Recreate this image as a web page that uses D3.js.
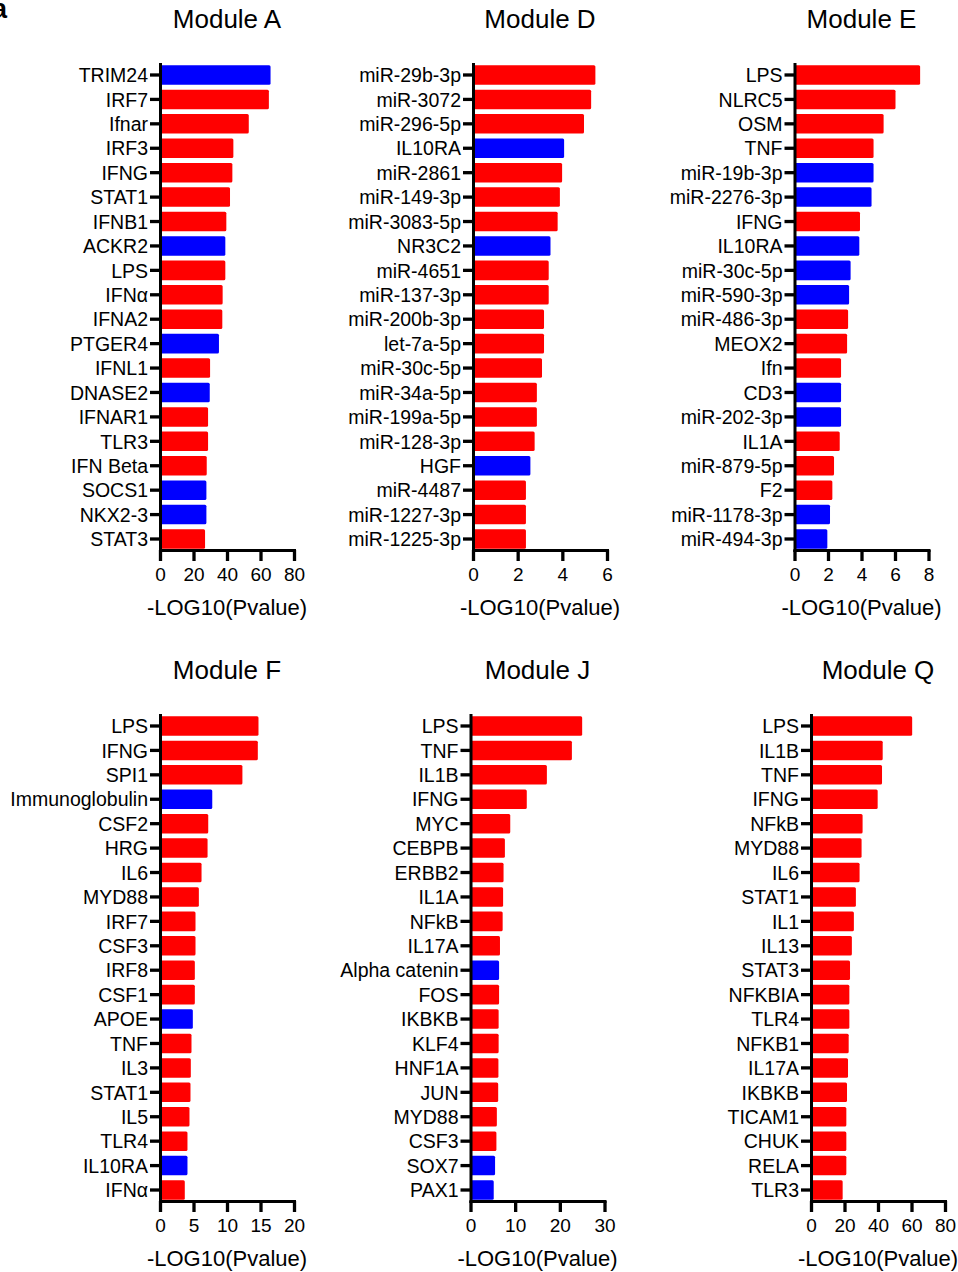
<!DOCTYPE html>
<html>
<head>
<meta charset="utf-8">
<script src="https://cdn.jsdelivr.net/npm/d3@7/dist/d3.min.js"></script>
<style>
  body { margin: 0; background: #fff; }
  svg { display: block; font-family: "Liberation Sans", Arial, sans-serif; }
</style>
</head>
<body>
<svg id="svg1" width="958" height="1272"></svg>
<script>
// ---- data ----
// "act" = red bar, "inh" = blue bar
var modATitle = "Module A";
var modAGenes = ["TRIM24","IRF7","Ifnar","IRF3","IFNG","STAT1","IFNB1","ACKR2","LPS","IFN\u03b1",
                 "IFNA2","PTGER4","IFNL1","DNASE2","IFNAR1","TLR3","IFN Beta","SOCS1","NKX2-3","STAT3"];
var modAValues = [66, 65, 53, 43.8, 43.2, 41.8, 39.6, 39, 39, 37.4,
                  37.2, 35.2, 29.9, 29.7, 28.7, 28.7, 27.9, 27.7, 27.7, 26.9];
var modADir = ["inh","act","act","act","act","act","act","inh","act","act",
               "act","inh","act","inh","act","act","act","inh","inh","act"];
var modATicks = [0, 20, 40, 60, 80];

var modDTitle = "Module D";
var modDGenes = ["miR-29b-3p","miR-3072","miR-296-5p","IL10RA","miR-2861","miR-149-3p","miR-3083-5p","NR3C2","miR-4651","miR-137-3p",
                 "miR-200b-3p","let-7a-5p","miR-30c-5p","miR-34a-5p","miR-199a-5p","miR-128-3p","HGF","miR-4487","miR-1227-3p","miR-1225-3p"];
var modDValues = [5.48, 5.29, 4.97, 4.08, 3.99, 3.89, 3.79, 3.47, 3.39, 3.39,
                  3.18, 3.18, 3.09, 2.86, 2.86, 2.76, 2.57, 2.37, 2.37, 2.37];
var modDDir = ["act","act","act","inh","act","act","act","inh","act","act",
               "act","act","act","act","act","act","inh","act","act","act"];
var modDTicks = [0, 2, 4, 6];

var modETitle = "Module E";
var modEGenes = ["LPS","NLRC5","OSM","TNF","miR-19b-3p","miR-2276-3p","IFNG","IL10RA","miR-30c-5p","miR-590-3p",
                 "miR-486-3p","MEOX2","Ifn","CD3","miR-202-3p","IL1A","miR-879-5p","F2","miR-1178-3p","miR-494-3p"];
var modEValues = [7.5, 6.03, 5.32, 4.72, 4.72, 4.6, 3.91, 3.87, 3.35, 3.26,
                  3.2, 3.14, 2.78, 2.78, 2.78, 2.7, 2.36, 2.26, 2.12, 1.96];
var modEDir = ["act","act","act","act","inh","inh","act","inh","inh","inh",
               "act","act","act","inh","inh","act","act","act","inh","inh"];
var modETicks = [0, 2, 4, 6, 8];

var modFTitle = "Module F";
var modFGenes = ["LPS","IFNG","SPI1","Immunoglobulin","CSF2","HRG","IL6","MYD88","IRF7","CSF3",
                 "IRF8","CSF1","APOE","TNF","IL3","STAT1","IL5","TLR4","IL10RA","IFN\u03b1"];
var modFValues = [14.7, 14.6, 12.3, 7.8, 7.2, 7.1, 6.2, 5.8, 5.3, 5.3,
                  5.2, 5.2, 4.9, 4.7, 4.6, 4.55, 4.4, 4.1, 4.1, 3.7];
var modFDir = ["act","act","act","inh","act","act","act","act","act","act",
               "act","act","inh","act","act","act","act","act","inh","act"];
var modFTicks = [0, 5, 10, 15, 20];

var modJTitle = "Module J";
var modJGenes = ["LPS","TNF","IL1B","IFNG","MYC","CEBPB","ERBB2","IL1A","NFkB","IL17A",
                 "Alpha catenin","FOS","IKBKB","KLF4","HNF1A","JUN","MYD88","CSF3","SOX7","PAX1"];
var modJValues = [25, 22.7, 17.1, 12.6, 8.9, 7.7, 7.4, 7.3, 7.2, 6.6,
                  6.4, 6.4, 6.3, 6.3, 6.25, 6.2, 5.9, 5.8, 5.5, 5.2];
var modJDir = ["act","act","act","act","act","act","act","act","act","act",
               "inh","act","act","act","act","act","act","act","inh","inh"];
var modJTicks = [0, 10, 20, 30];

var modQTitle = "Module Q";
var modQGenes = ["LPS","IL1B","TNF","IFNG","NFkB","MYD88","IL6","STAT1","IL1","IL13",
                 "STAT3","NFKBIA","TLR4","NFKB1","IL17A","IKBKB","TICAM1","CHUK","RELA","TLR3"];
var modQValues = [60.4, 42.8, 42.4, 39.8, 30.8, 30.2, 29, 26.8, 25.6, 24.4,
                  23.3, 22.9, 22.9, 22.5, 22.1, 21.5, 21.1, 21.1, 21.1, 18.9];
var modQDir = ["act","act","act","act","act","act","act","act","act","act",
               "act","act","act","act","act","act","act","act","act","act"];
var modQTicks = [0, 20, 40, 60, 80];

var axisTitle = "-LOG10(Pvalue)";

// ---- layout ----
var svg = d3.select('#svg1');
var colorOf = { act: '#ff0000', inh: '#0000ff' };
var plotW = 134;
var rowTop = [63, 714];      // top of each y axis
var plotH = 487;

// panel letter (cut at the left edge in the original)
svg.append('text')
    .attr('x', -8).attr('y', 18)
    .attr('font-size', 27).attr('font-weight', 'bold')
    .text('a');

function drawPanel(left, top, title, genes, values, dirs, ticks) {
    var g = svg.append('g').attr('transform', 'translate(' + left + ',' + top + ')');

    var x = d3.scaleLinear()
        .domain([0, ticks[ticks.length - 1]])
        .range([0, plotW]);

    var y = d3.scaleBand()
        .domain(genes)
        .range([1, plotH])
        .paddingInner(0.2)
        .paddingOuter(0.05);

    var rows = genes.map(function(d, i) { return { gene: d, value: values[i], dir: dirs[i] }; });

    g.selectAll('rect')
        .data(rows)
        .enter()
        .append('rect')
        .attr('x', x(0))
        .attr('y', function(d) { return y(d.gene); })
        .attr('width', function(d) { return x(d.value) - x(0); })
        .attr('height', y.bandwidth())
        .attr('rx', 1.5)
        .attr('fill', function(d) { return colorOf[d.dir]; });

    // y axis with gene names
    var yAxis = g.append('g')
        .call(d3.axisLeft(y).tickSize(10).tickSizeOuter(0).tickPadding(2));
    yAxis.selectAll('text').attr('font-size', 19.5).attr('fill', '#000').attr('dy', '0.37em');

    // x axis
    var xAxis = g.append('g')
        .attr('transform', 'translate(0,' + plotH + ')')
        .call(d3.axisBottom(x).tickValues(ticks).tickSize(11).tickSizeOuter(0).tickPadding(6.5)
              .tickFormat(d3.format('d')));
    xAxis.selectAll('text').attr('font-size', 19).attr('fill', '#000');

    g.selectAll('.domain, .tick line')
        .attr('stroke', '#000')
        .attr('stroke-width', 3);
    g.selectAll('.domain').attr('stroke-linecap', 'square');
    g.selectAll('.tick line').attr('stroke-width', 3.3);
    g.selectAll('.tick text').attr('font-family', '"Liberation Sans", Arial, sans-serif');

    // panel title
    g.append('text')
        .attr('x', plotW / 2).attr('y', -35)
        .attr('text-anchor', 'middle')
        .attr('font-size', 26)
        .text(title);

    // axis title
    g.append('text')
        .attr('x', plotW / 2).attr('y', plotH + 65)
        .attr('text-anchor', 'middle')
        .attr('font-size', 22)
        .text(axisTitle);
}

drawPanel(160,   rowTop[0], modATitle, modAGenes, modAValues, modADir, modATicks);
drawPanel(473,   rowTop[0], modDTitle, modDGenes, modDValues, modDDir, modDTicks);
drawPanel(794.5, rowTop[0], modETitle, modEGenes, modEValues, modEDir, modETicks);
drawPanel(160,   rowTop[1], modFTitle, modFGenes, modFValues, modFDir, modFTicks);
drawPanel(470.5, rowTop[1], modJTitle, modJGenes, modJValues, modJDir, modJTicks);
drawPanel(811,   rowTop[1], modQTitle, modQGenes, modQValues, modQDir, modQTicks);
</script>
</body>
</html>
